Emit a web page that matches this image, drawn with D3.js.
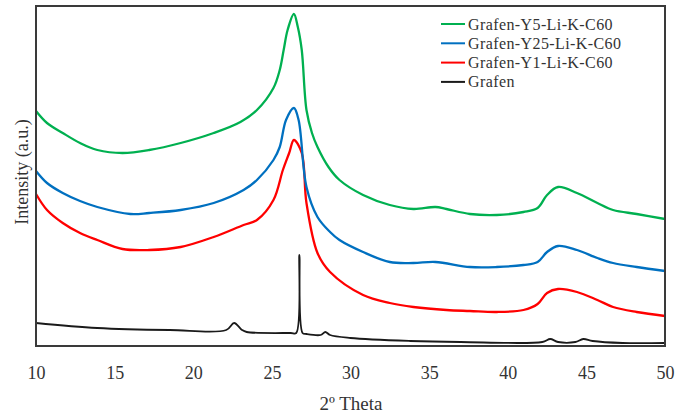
<!DOCTYPE html>
<html>
<head>
<meta charset="utf-8">
<script src="https://cdn.jsdelivr.net/npm/d3@7"></script>
<style>
  body { margin: 0; background: #fff; }
  text { font-family: "Liberation Serif", "Times New Roman", serif; fill: #333; }
</style>
</head>
<body>
<div id="chart"></div>
<script>
var width = 676, height = 417;
var margin = {top: 6, right: 11, bottom: 71, left: 36};

// 2-theta positions and intensities (a.u.)
var y5Theta = [10, 10.7, 11.7, 12.8, 13.9, 15.5, 17.2, 19.2, 21.3, 23.0, 24.05, 25.1, 25.5, 25.75, 26.0, 26.4, 26.65, 26.9, 27.2, 27.55, 27.9, 28.6, 29.3, 30.8, 32.5, 34.0, 35.4, 36.1, 37.6, 39.3, 41.0, 41.9, 42.5, 43.2, 44.4, 45.7, 46.7, 48.2, 50];
var y5Int   = [235, 223, 213, 203, 196, 193, 196, 203, 213, 224, 236, 258, 276, 296, 316, 332, 319, 296, 236, 213, 199, 179, 166, 151, 141, 137, 139, 137, 132, 131, 134, 138, 151, 159, 153, 143, 136, 132, 127];

var y25Theta = [10, 10.7, 11.7, 12.8, 13.9, 16.0, 17.2, 19.2, 21.3, 23.2, 24.05, 25.1, 25.5, 25.9, 26.4, 26.7, 27.2, 27.9, 28.7, 29.3, 30.8, 32.5, 34.0, 35.4, 37.6, 39.3, 41.0, 41.9, 42.5, 43.2, 44.4, 45.7, 46.7, 48.2, 50];
var y25Int   = [175, 163, 153, 145, 139, 132, 133, 136, 143, 156, 166, 186, 199, 226, 238, 226, 159, 129, 114, 106, 94, 84, 83, 84, 79, 79, 81, 84, 94, 100, 96, 88, 83, 79, 75];

var y1Theta = [10, 10.7, 11.7, 12.8, 13.9, 15.5, 17.2, 19.2, 21.3, 23.2, 24.05, 25.1, 25.7, 26.1, 26.4, 26.9, 27.2, 27.9, 28.7, 30.8, 32.5, 34.0, 36.1, 37.6, 39.3, 41.0, 41.9, 42.5, 43.2, 44.4, 45.7, 46.7, 48.2, 50];
var y1Int   = [152, 136, 123, 113, 106, 97, 96, 99, 109, 121, 126, 146, 176, 193, 206, 193, 143, 93, 74, 51, 43, 39, 36, 35, 34, 36, 42, 53, 57, 54, 46, 39, 34, 30];

var grafenTheta = [10, 13.9, 18.5, 22.1, 22.6, 23.1, 23.4, 26.2, 26.55, 26.75, 26.95, 27.2, 28.1, 28.4, 28.7, 30.0, 33.8, 37.0, 42.2, 42.7, 43.2, 44.3, 44.8, 45.4, 47.3, 50];
var grafenInt   = [23, 18, 16, 16, 23, 16, 14, 13, 13, 91, 13, 12, 11, 14, 11, 8, 5, 4, 4, 7, 4, 4, 7, 5, 3, 3];

var seriesNames = ["Grafen-Y5-Li-K-C60", "Grafen-Y25-Li-K-C60", "Grafen-Y1-Li-K-C60", "Grafen"];
var seriesColors = ["#00b050", "#0070c0", "#ff0000", "#1a1a1a"];
var xTicks = [10, 15, 20, 25, 30, 35, 40, 45, 50];

var series = [
  {name: seriesNames[0], color: seriesColors[0], theta: y5Theta, val: y5Int},
  {name: seriesNames[1], color: seriesColors[1], theta: y25Theta, val: y25Int},
  {name: seriesNames[2], color: seriesColors[2], theta: y1Theta, val: y1Int},
  {name: seriesNames[3], color: seriesColors[3], theta: grafenTheta, val: grafenInt}
];

var svg = d3.select("#chart").append("svg")
  .attr("width", width)
  .attr("height", height);

var x = d3.scaleLinear().domain([10, 50]).range([margin.left, width - margin.right]);
var y = d3.scaleLinear().domain([0, 340]).range([height - margin.bottom, margin.top]);

// lines first, frame on top
var line = d3.line()
  .x(function (d) { return x(d[0]); })
  .y(function (d) { return y(d[1]); })
  .curve(d3.curveCatmullRom.alpha(0.5));

svg.selectAll("path.trace")
  .data(series.slice().reverse())
  .enter()
  .append("path")
    .attr("class", "trace")
    .attr("fill", "none")
    .attr("stroke", function (d) { return d.color; })
    .attr("stroke-width", function (d) { return d.name === "Grafen" ? 1.8 : 2.3; })
    .attr("stroke-linejoin", "round")
    .attr("d", function (d) { return line(d.theta.map(function (t, i) { return [t, d.val[i]]; })); });

// plot frame
svg.append("rect")
  .attr("x", margin.left)
  .attr("y", margin.top)
  .attr("width", width - margin.left - margin.right)
  .attr("height", height - margin.top - margin.bottom)
  .attr("fill", "none")
  .attr("stroke", "#3a3a3a")
  .attr("stroke-width", 2);

// x axis labels, no tick marks
var xAxis = d3.axisBottom(x).tickValues(xTicks).tickSize(0).tickPadding(20);
var gx = svg.append("g")
  .attr("transform", "translate(0," + (height - margin.bottom) + ")")
  .call(xAxis);
gx.select(".domain").remove();
gx.selectAll("text")
  .style("font-family", "'Liberation Serif', serif")
  .style("font-size", "18px")
  .attr("fill", "#333");

svg.append("text")
  .attr("x", 351)
  .attr("y", 410)
  .attr("text-anchor", "middle")
  .style("font-size", "19px")
  .text("2º Theta");

svg.append("text")
  .attr("transform", "translate(28,172) rotate(-90)")
  .attr("text-anchor", "middle")
  .style("font-size", "18px")
  .text("Intensity (a.u.)");

// legend
var legend = svg.selectAll("g.legend")
  .data(series)
  .enter()
  .append("g")
    .attr("class", "legend")
    .attr("transform", function (d, i) { return "translate(441," + (24 + i * 19.3) + ")"; });

legend.append("line")
  .attr("x1", 0).attr("x2", 24)
  .attr("stroke", function (d) { return d.color; })
  .attr("stroke-width", 2);

legend.append("text")
  .attr("x", 27)
  .attr("y", 5.5)
  .style("font-size", "16px")
  .style("letter-spacing", "0.4px")
  .text(function (d) { return d.name; });
</script>
</body>
</html>
